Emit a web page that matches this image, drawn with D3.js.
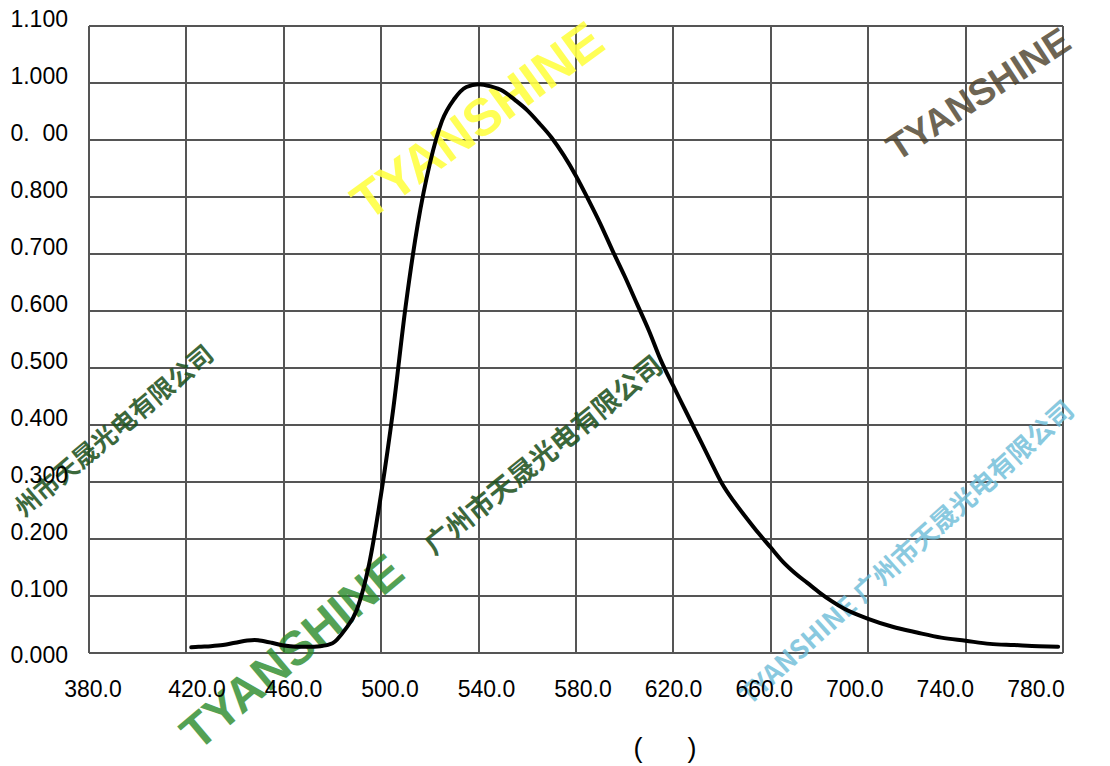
<!DOCTYPE html>
<html>
<head>
<meta charset="utf-8">
<script src="https://cdn.jsdelivr.net/npm/d3@7"></script>
<style>
html,body{margin:0;padding:0;background:#fff;}
svg{display:block;font-family:"Liberation Sans",Arial,sans-serif;}
</style>
</head>
<body>
<svg id="chart" width="1110" height="766"></svg>
<script>
// ---- data ----
const wavelengths = [422,425,430,435,440,445,448,450,455,460,465,470,475,480,485,490,495,500,505,510,515,520,525,530,535,540,545,550,555,560,565,570,575,580,585,590,595,600,605,610,615,620,625,630,635,640,645,650,655,660,665,670,675,680,685,690,700,710,720,730,740,750,760,770,778];
const intensity   = [0.010,0.011,0.012,0.014,0.018,0.022,0.023,0.022,0.018,0.013,0.011,0.011,0.012,0.017,0.040,0.076,0.155,0.280,0.430,0.607,0.752,0.859,0.934,0.972,0.993,0.998,0.994,0.986,0.970,0.952,0.929,0.904,0.873,0.837,0.796,0.753,0.706,0.661,0.613,0.565,0.512,0.468,0.425,0.382,0.339,0.297,0.265,0.237,0.210,0.185,0.160,0.140,0.123,0.106,0.091,0.078,0.060,0.046,0.036,0.027,0.0215,0.016,0.014,0.012,0.011];
const xTickValues = [380,420,460,500,540,580,620,660,700,740,780];
const xTickLabels = ["380.0","420.0","460.0","500.0","540.0","580.0","620.0","660.0","700.0","740.0","780.0"];
const yTickValues = [0,0.1,0.2,0.3,0.4,0.5,0.6,0.7,0.8,0.9,1.0,1.1];
const yTickLabels = ["0.000","0.100","0.200","0.300","0.400","0.500","0.600","0.700","0.800","0.  00","1.000","1.100"];
const xTitle = "(      )";

const svg = d3.select("#chart");
const pL = 89, pR = 1063, pT = 26, pB = 653;

const x = d3.scaleLinear().domain([380,780]).range([pL,pR]);
const y = d3.scaleLinear().domain([0,1.1]).range([pB,pT]);
// label placement scales (labels in the reference drift from grid lines)
const xLab = d3.scaleLinear().domain([380,420,580,780]).range([93,197,583,1036]);
const yLab = d3.scaleLinear().domain([0,0.1,1.1]).range([655,589,18.5]);

// grid
const grid = svg.append("g").attr("stroke","#555").attr("stroke-width",1.3).attr("shape-rendering","crispEdges");
grid.selectAll("line.h").data(yTickValues).join("line").attr("class","h")
  .attr("x1",pL).attr("x2",pR).attr("y1",d=>Math.round(y(d))).attr("y2",d=>Math.round(y(d)));
grid.selectAll("line.v").data(xTickValues).join("line").attr("class","v")
  .attr("x1",d=>Math.round(x(d))).attr("x2",d=>Math.round(x(d))).attr("y1",pT).attr("y2",pB);

// watermarks (approximate)
const wm = svg.append("g").attr("font-weight","bold");
wm.append("text").text("TYANSHINE").attr("transform","translate(368,222) rotate(-36)")
  .attr("font-size",52).attr("fill","#ffff44").attr("opacity",0.9);
wm.append("text").text("TYANSHINE").attr("transform","translate(198,752) rotate(-40)")
  .attr("font-size",48).attr("fill","#2a8a2a").attr("opacity",0.8);
wm.append("text").text("广州市天晟光电有限公司").attr("transform","translate(434,556) rotate(-39)")
  .attr("font-family","Noto Sans CJK SC").attr("font-size",27).attr("fill","#1a4e1a").attr("opacity",0.85);
wm.append("text").text("州市天晟光电有限公司").attr("transform","translate(24,518) rotate(-40)")
  .attr("font-family","Noto Sans CJK SC").attr("font-size",25).attr("fill","#1a4e1a").attr("opacity",0.85);
wm.append("text").text("TYANSHINE 广州市天晟光电有限公司").attr("transform","translate(750,706) rotate(-42)")
  .attr("font-family","Noto Sans CJK SC").attr("font-size",26).attr("fill","#6cbcd8").attr("opacity",0.8);
wm.append("text").text("TYANSHINE").attr("transform","translate(897,162) rotate(-33)")
  .attr("font-size",37).attr("fill","#4a3f2a").attr("opacity",0.8);

// curve
const pts = wavelengths.map((w,i)=>[w,intensity[i]]);
svg.append("path").datum(pts)
  .attr("fill","none").attr("stroke","#000").attr("stroke-width",4)
  .attr("stroke-linejoin","round").attr("stroke-linecap","round")
  .attr("d", d3.line().x(d=>x(d[0])).y(d=>y(d[1])).curve(d3.curveMonotoneX));

// tick labels
svg.append("g").selectAll("text").data(xTickValues).join("text")
  .attr("x",d=>xLab(d)).attr("y",697).attr("text-anchor","middle")
  .attr("font-size",23).attr("fill","#000")
  .text((d,i)=>xTickLabels[i]);
svg.append("g").selectAll("text").data(yTickValues).join("text")
  .attr("x",68).attr("y",d=>yLab(d)).attr("dy","0.36em").attr("text-anchor","end")
  .attr("font-size",23).attr("fill","#000").style("white-space","pre")
  .text((d,i)=>yTickLabels[i]);

// axis title
svg.append("text").attr("x",665).attr("y",757).attr("text-anchor","middle")
  .attr("font-size",27).attr("fill","#000").style("white-space","pre").text(xTitle);
</script>
</body>
</html>
